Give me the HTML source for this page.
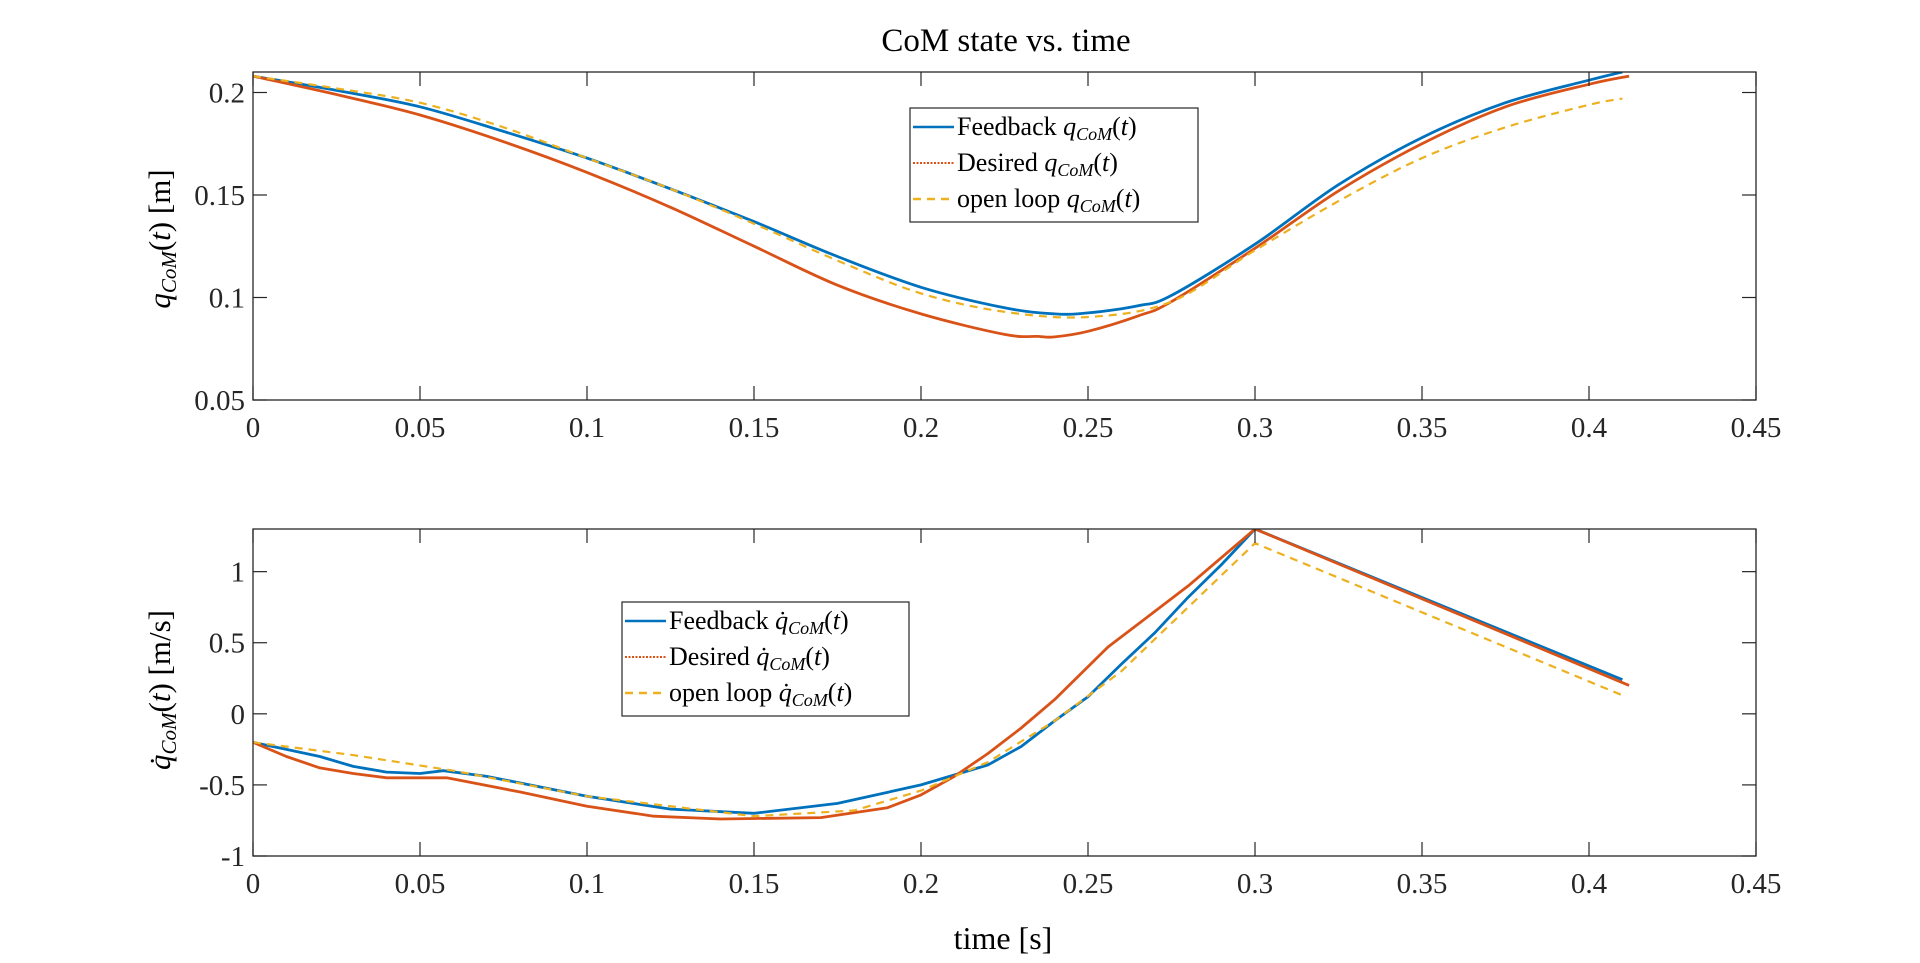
<!DOCTYPE html>
<html><head><meta charset="utf-8"><style>
html,body{margin:0;padding:0;background:#fff;}
svg{display:block;font-family:"Liberation Serif",serif;}
</style></head><body>
<svg id="chart" width="1920" height="963" viewBox="0 0 1920 963" xmlns="http://www.w3.org/2000/svg">
<text x="1006" y="51" font-size="33" text-anchor="middle">CoM state vs. time</text>
<text x="1003" y="949" font-size="32" text-anchor="middle">time [s]</text>
<g id="topplot"></g>
<g id="botplot"></g>
</svg>
<script>
const xTicks=[0,0.05,0.1,0.15,0.2,0.25,0.3,0.35,0.4,0.45];
const xTickLabels=["0","0.05","0.1","0.15","0.2","0.25","0.3","0.35","0.4","0.45"];
const topYTicks=[0.05,0.1,0.15,0.2];
const topYTickLabels=["0.05","0.1","0.15","0.2"];
const botYTicks=[-1,-0.5,0,0.5,1];
const botYTickLabels=["-1","-0.5","0","0.5","1"];

const qFbT=[0,.025,.05,.075,.1,.125,.15,.175,.2,.225,.24,.25,.265,.275,.3,.325,.35,.375,.4,.41];
const qFbV=[0.208,0.201,0.193,0.181,0.168,0.153,0.137,0.120,0.105,0.095,0.092,0.0925,0.096,0.101,0.126,0.155,0.178,0.195,0.206,0.210];
const qDesT=[0,.025,.05,.075,.1,.125,.15,.175,.2,.225,.235,.24,.25,.265,.275,.3,.325,.35,.375,.4,.412];
const qDesV=[0.208,0.199,0.189,0.176,0.161,0.144,0.125,0.106,0.092,0.082,0.081,0.0808,0.0835,0.091,0.098,0.124,0.152,0.175,0.193,0.204,0.208];
const qOlT=[0,.025,.05,.075,.1,.125,.15,.175,.2,.225,.25,.275,.3,.325,.35,.375,.4,.41];
const qOlV=[0.208,0.202,0.195,0.183,0.168,0.153,0.136,0.118,0.102,0.093,0.0905,0.098,0.123,0.147,0.168,0.183,0.194,0.197];

const vFbT=[0,.01,.02,.03,.04,.05,.057,.07,.1,.125,.15,.175,.2,.22,.23,.24,.25,.26,.27,.28,.29,.3,.41];
const vFbV=[-0.2,-0.25,-0.3,-0.37,-0.41,-0.42,-0.4,-0.44,-0.58,-0.67,-0.7,-0.63,-0.5,-0.36,-0.23,-0.05,0.12,0.35,0.57,0.82,1.05,1.3,0.24];
const vDesT=[0,.01,.02,.03,.04,.058,.08,.1,.12,.14,.17,.19,.2,.21,.22,.23,.24,.256,.28,.3,.412];
const vDesV=[-0.2,-0.3,-0.38,-0.42,-0.45,-0.45,-0.55,-0.65,-0.72,-0.74,-0.73,-0.66,-0.57,-0.44,-0.28,-0.1,0.1,0.47,0.9,1.3,0.2];
const vOlT=[0,.03,.06,.1,.15,.18,.2,.22,.24,.26,.28,.3,.41];
const vOlV=[-0.2,-0.29,-0.4,-0.58,-0.72,-0.68,-0.54,-0.34,-0.05,0.3,0.75,1.2,0.13];

const NS="http://www.w3.org/2000/svg";
const BLUE="#0072BD",RED="#D95319",YEL="#EDB120";
function mk(tag,attrs,parent){const e=document.createElementNS(NS,tag);for(const k in attrs)e.setAttribute(k,attrs[k]);parent.appendChild(e);return e;}

function pathD(pts,smooth){
  if(!smooth) return pts.map((p,i)=>(i?'L':'M')+p[0].toFixed(1)+' '+p[1].toFixed(1)).join(' ');
  let d='M'+pts[0][0].toFixed(1)+' '+pts[0][1].toFixed(1);
  for(let i=0;i<pts.length-1;i++){
    const p0=pts[Math.max(0,i-1)],p1=pts[i],p2=pts[i+1],p3=pts[Math.min(pts.length-1,i+2)];
    const c1=[p1[0]+(p2[0]-p0[0])/6,p1[1]+(p2[1]-p0[1])/6];
    const c2=[p2[0]-(p3[0]-p1[0])/6,p2[1]-(p3[1]-p1[1])/6];
    d+=' C'+c1[0].toFixed(1)+' '+c1[1].toFixed(1)+' '+c2[0].toFixed(1)+' '+c2[1].toFixed(1)+' '+p2[0].toFixed(1)+' '+p2[1].toFixed(1);
  }
  return d;
}

function drawAxes(g,box,ymin,ymax,yTicks,yLabels,series,legend,dot,smooth){
  const X=v=>box.l+(v-0)/(0.45-0)*(box.r-box.l);
  const Y=v=>box.b-(v-ymin)/(ymax-ymin)*(box.b-box.t);
  const clip="clip"+g.id;
  const cp=mk('clipPath',{id:clip},g);
  mk('rect',{x:box.l,y:box.t,width:box.r-box.l,height:box.b-box.t},cp);
  series.forEach(s=>{
    const pts=s.t.map((t,i)=>[X(t),Y(s.v[i])]);
    const p=mk('path',{d:pathD(pts,smooth),fill:'none',stroke:s.c,'stroke-width':s.w,'stroke-dasharray':s.dash||'none','stroke-linejoin':'round','clip-path':'url(#'+clip+')'},g);
    
    
  });
  const frame=mk('rect',{x:box.l,y:box.t,width:box.r-box.l,height:box.b-box.t,fill:'none',stroke:'#262626','stroke-width':1.3},g);
  
  
  xTicks.forEach((t,i)=>{
    const x=X(t);
    mk('line',{x1:x,x2:x,y1:box.b,y2:box.b-14,stroke:'#262626','stroke-width':1.2},g);
    mk('line',{x1:x,x2:x,y1:box.t,y2:box.t+14,stroke:'#262626','stroke-width':1.2},g);
    const tx=mk('text',{x:x,y:box.b+37,'font-size':29,'text-anchor':'middle',fill:'#262626'},g);
    tx.textContent=xTickLabels[i];
    
    
  });
  yTicks.forEach((v,i)=>{
    const y=Y(v);
    mk('line',{x1:box.l,x2:box.l+14,y1:y,y2:y,stroke:'#262626','stroke-width':1.2},g);
    mk('line',{x1:box.r,x2:box.r-14,y1:y,y2:y,stroke:'#262626','stroke-width':1.2},g);
    const tx=mk('text',{x:box.l-8,y:y+10,'font-size':29,'text-anchor':'end',fill:'#262626'},g);
    tx.textContent=yLabels[i];
    
    
  });
  const L=legend;
  const lg=mk('g',{},g);
  
  
  mk('rect',{x:L.x,y:L.y,width:L.w,height:L.h,fill:'#fff',stroke:'#262626','stroke-width':1.2},lg);
  const names=['Feedback ','Desired ','open loop '];
  series.forEach((s,i)=>{
    const cy=L.y+19+i*36;
    mk('line',{x1:L.x+3,x2:L.x+44,y1:cy,y2:cy,stroke:s.c,'stroke-width':s.c===RED?2:2.5,'stroke-dasharray':s.c===RED?'2 1.5':(s.dash||'none')},lg);
    const t=mk('text',{x:L.x+47,y:cy+8,'font-size':26},lg);
    
    
    t.innerHTML=names[i]+'<tspan font-style="italic">'+(dot?'q\u0307':'q')+'</tspan><tspan font-style="italic" font-size="18" dy="5">CoM</tspan><tspan dy="-5">(</tspan><tspan font-style="italic">t</tspan>)';
  });
}

const topG=document.getElementById('topplot');
drawAxes(topG,{l:253,r:1756,t:72,b:400},0.05,0.21,topYTicks,topYTickLabels,[
 {t:qFbT,v:qFbV,c:BLUE,w:2.8,name:'feedback-q-line'},
 {t:qDesT,v:qDesV,c:RED,w:2.8,name:'desired-q-line'},
 {t:qOlT,v:qOlV,c:YEL,w:2.2,dash:'8 6',name:'openloop-q-line'}
],{x:910,y:108,w:288,h:114},false,true);
const botG=document.getElementById('botplot');
drawAxes(botG,{l:253,r:1756,t:529,b:856},-1,1.3,botYTicks,botYTickLabels,[
 {t:vFbT,v:vFbV,c:BLUE,w:2.8,name:'feedback-qdot-line'},
 {t:vDesT,v:vDesV,c:RED,w:2.8,name:'desired-qdot-line'},
 {t:vOlT,v:vOlV,c:YEL,w:2.2,dash:'8 6',name:'openloop-qdot-line'}
],{x:622,y:602,w:287,h:114},true,false);

function ylab(cx,cy,dot,unit,name){
  const t=mk('text',{x:0,y:0,'font-size':31,'text-anchor':'middle',transform:'translate('+cx+','+cy+') rotate(-90)'},document.getElementById('chart'));
  
  
  t.innerHTML='<tspan font-style="italic">'+(dot?'q\u0307':'q')+'</tspan><tspan font-style="italic" font-size="21" dy="6">CoM</tspan><tspan dy="-6">(</tspan><tspan font-style="italic">t</tspan>)  '+unit;
}
ylab(170,239,false,'[m]','top-y-axis-title');
ylab(170,690,true,'[m/s]','bottom-y-axis-title');
</script>
</body></html>
